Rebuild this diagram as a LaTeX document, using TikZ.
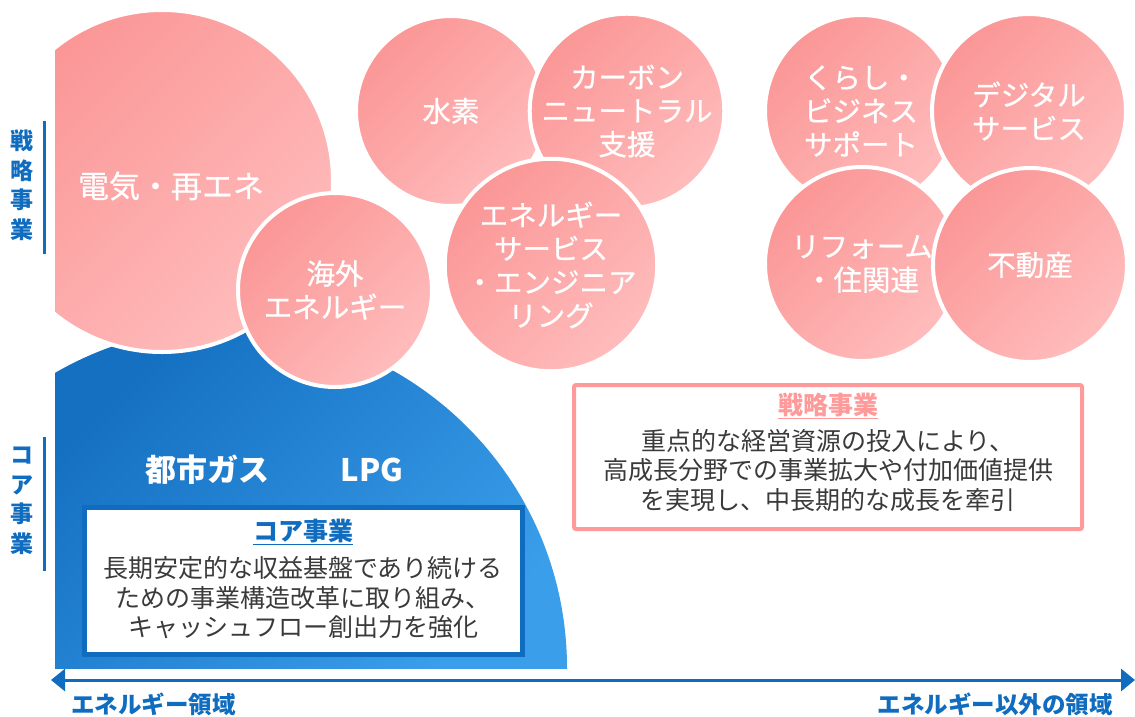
\documentclass[tikz,border=0pt]{standalone}
\usepackage{fontspec}
\setmainfont{Noto Sans CJK JP}
\newfontfamily\jpsemi[FakeBold=0.6]{Noto Sans CJK JP}
\usetikzlibrary{arrows.meta}
\definecolor{pinkA}{HTML}{FB9696}
\definecolor{pinkB}{HTML}{FFBCBC}
\definecolor{blueA}{HTML}{1570C2}
\definecolor{blueB}{HTML}{3A9EEA}
\definecolor{axisblue}{HTML}{0F6CBF}
\definecolor{boxpink}{HTML}{FF9A9A}
\definecolor{textgray}{HTML}{3A3A3A}
\begin{document}
\begin{tikzpicture}[x=1pt,y=-1pt,
  pc/.style={circle, draw=white, line width=4pt, top color=pinkA, bottom color=pinkB,
    shading angle=45, text=white, align=center, inner sep=0pt,
    font=\jpsemi\fontsize{28.5}{33.5}\selectfont},
  ctext/.style={text=white, align=center, inner sep=0pt, font=\jpsemi\fontsize{31}{34}\selectfont},
  sidelbl/.style={text=axisblue, align=center, inner sep=0pt, font=\fontsize{23}{29.5}\selectfont\bfseries},
  axlbl/.style={text=axisblue, inner sep=0pt, font=\fontsize{23.5}{26}\selectfont\bfseries},
  bodytxt/.style={text=textgray, align=center, inner sep=0pt, font=\fontsize{25}{29.5}\selectfont},
  ttl/.style={inner sep=0pt, font=\fontsize{25}{28}\selectfont\bfseries},
  core/.style={text=white, inner sep=0pt, font=\fontsize{31}{34}\selectfont\bfseries}
]
\useasboundingbox[fill=white] (0,0) rectangle (1135,716);

% core business blue area
\begin{scope}
  \clip (55,0) rectangle (1135,668);
  \clip (226,668) circle [radius=341];
  \shade[top color=blueA, bottom color=blueB, shading angle=45] (55,327) rectangle (567,668);
\end{scope}

% big electric circle (clipped at left)
\begin{scope}
  \clip (55,0) rectangle (1135,716);
  \node[pc, minimum size=342pt] (denki) at (162,181) {};
\end{scope}
\node[ctext] (denkiT) at (171,186) {電気・再エネ};

\node[pc, minimum size=194pt] (kaigai) at (335,290) {海外\\エネルギー};

\node[pc, minimum size=190pt] (suiso) at (451,111) {水素};
\node[pc, minimum size=192pt] (carbon) at (627,111) {カーボン\\ニュートラル\\支援};
\node[pc, minimum size=192pt] (eneserv) at (551,265) {エネルギー\\サービス\\・エンジニア\\リング};

\node[pc, minimum size=192pt] (kurashi) at (861,111) {くらし・\\ビジネス\\サポート};
\node[pc, minimum size=194pt] (digital) at (1029,111) {デジタル\\サービス};
\node[pc, minimum size=194pt] (reform) at (862,264) {リフォーム\\・住関連};
\node[pc, minimum size=194pt] (fudosan) at (1030,265) {不動産};

% core labels
\node[core] (toshigas) at (207,470) {都市ガス};
\node[core] (lpg) at (372,470) {LPG};

% side labels
\node[sidelbl] (senryakuV) at (22,185) {戦\\略\\事\\業};
\node[sidelbl] (coreV) at (22,501) {コ\\ア\\事\\業};
\coordinate (s1) at (44,121); \coordinate (s2) at (44,254);
\coordinate (c1) at (44,437); \coordinate (c2) at (44,571);
\draw[axisblue, line width=3pt] (s1) -- (s2);
\draw[axisblue, line width=3pt] (c1) -- (c2);

% core box
\node[draw=axisblue, line width=5pt, fill=white, minimum width=438pt, minimum height=147pt, inner sep=0pt] (corebox) at (303.5,581) {};
\node[ttl, text=axisblue] (coretitle) at (303,531) {コア事業};
\draw[axisblue, line width=1.3pt] ([yshift=-4pt]coretitle.base west) -- ([yshift=-4pt]coretitle.base east);
\node[bodytxt] (coretext) at (303,598) {長期安定的な収益基盤であり続ける\\ための事業構造改革に取り組み、\\キャッシュフロー創出力を強化};

% strategic box
\node[draw=boxpink, line width=4pt, fill=white, rounded corners=2pt, minimum width=508pt, minimum height=144pt, inner sep=0pt] (stratbox) at (828,457) {};
\node[ttl, text=boxpink] (strattitle) at (828,405) {戦略事業};
\draw[boxpink, line width=1.3pt] ([yshift=-4pt]strattitle.base west) -- ([yshift=-4pt]strattitle.base east);
\node[bodytxt] (strattext) at (828,470.5) {重点的な経営資源の投入により、\\高成長分野での事業拡大や付加価値提供\\を実現し、中長期的な成長を牽引};

% axis
\coordinate (axL) at (51,680);
\coordinate (axR) at (1135,680);
\draw[axisblue, line width=3pt, {Triangle[length=14pt,width=22pt]}-{Triangle[length=14pt,width=22pt]}] (axL) -- (axR);
\node[axlbl, anchor=west] (axLT) at (71,704) {エネルギー領域};
\node[axlbl, anchor=east] (axRT) at (1113,704) {エネルギー以外の領域};
\end{tikzpicture}
\end{document}
